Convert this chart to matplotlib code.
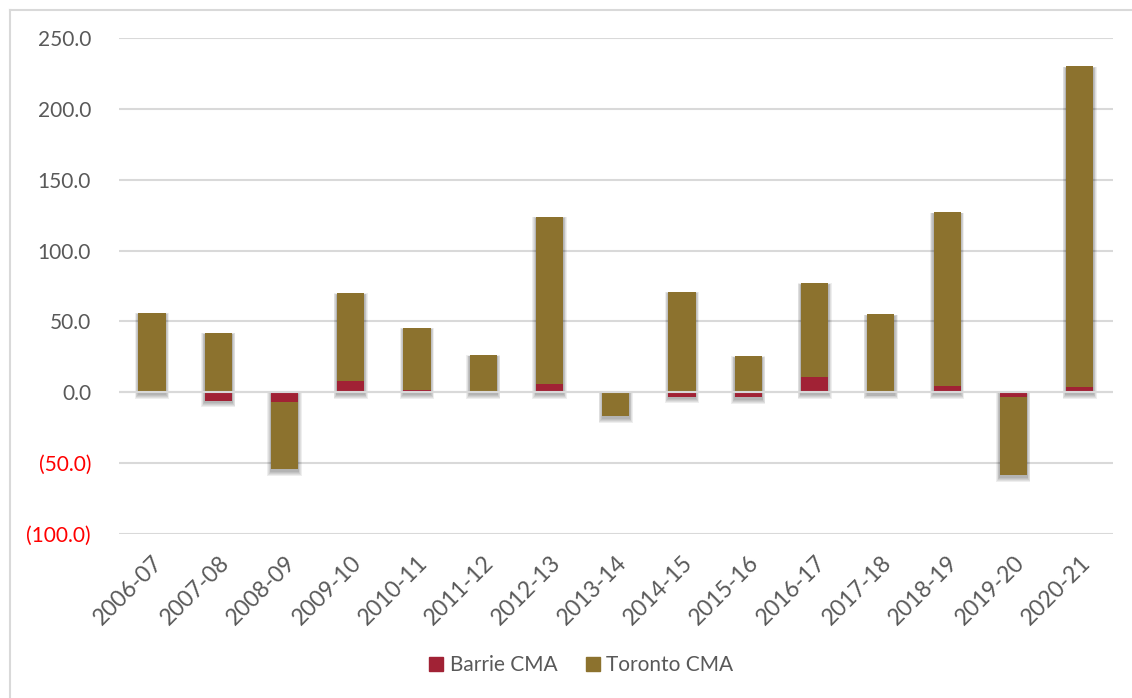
import numpy as np
import matplotlib.pyplot as plt
from matplotlib.lines import Line2D

plt.rcParams['font.family'] = ['Lato', 'DejaVu Sans']

# 数据（单位：千人）
years = ['2006-07', '2007-08', '2008-09', '2009-10', '2010-11', '2011-12', '2012-13',
         '2013-14', '2014-15', '2015-16', '2016-17', '2017-18', '2018-19', '2019-20', '2020-21']
barrie = [0.0, -6.0, -7.0, 8.0, 1.5, 0.3, 6.0, 1.0, -3.0, -3.5, 10.5, -0.4, 4.5, -3.0, 4.0]
toronto = [56.0, 42.0, -47.5, 62.0, 44.0, 26.0, 118.0, -17.0, 71.0, 25.5, 66.5, 55.0, 122.5, -55.6, 226.0]
yticks = [-100, -50, 0, 50, 100, 150, 200, 250]

c_barrie = '#A12235'
c_toronto = '#8C722E'
txt_grey = '#595959'

fig = plt.figure(figsize=(11.32, 6.98), dpi=100)
ax = fig.add_axes([0.105, 0.235, 0.878, 0.7106])

x = np.arange(len(years))
barrie = np.array(barrie)
toronto = np.array(toronto)
# 正负分开堆叠（Excel 风格）
bottom_t = np.where(np.sign(toronto) == np.sign(barrie), barrie, 0)
w = 0.41

# 柔和阴影：整根堆叠柱下方叠几层半透明矩形
top = np.maximum(np.maximum(barrie, 0) + np.maximum(toronto, 0), 0)
low = np.minimum(np.minimum(barrie, 0) + np.minimum(toronto, 0), 0)
px_x = 1 / 66.3
px_y = 1 / 1.416
for k in range(1, 6):
    ax.bar(x, top - low + 2 * k * px_y * 0.6, bottom=low - (2 + k) * px_y * 0.9,
           width=w + 2 * k * px_x * 0.7, color='black', alpha=0.065, linewidth=0, zorder=1)

ax.bar(x, barrie, width=w, color=c_barrie, zorder=2)
ax.bar(x, toronto, width=w, bottom=bottom_t, color=c_toronto, zorder=2)

ax.set_xlim(-0.5, len(years) - 0.5)
ax.set_ylim(-100, 250)
ax.set_yticks(yticks)
ax.set_yticklabels(['({:.1f})'.format(-v) if v < 0 else '{:.1f}'.format(v) for v in yticks])
for lab, v in zip(ax.get_yticklabels(), yticks):
    lab.set_color('#FF0000' if v < 0 else txt_grey)

ax.set_xticks(x)
ax.set_xticklabels(years, rotation=45, ha='right', rotation_mode='anchor', color=txt_grey, fontsize=16.5)
ax.tick_params(axis='both', length=0)
ax.tick_params(axis='y', pad=20, labelsize=15)
ax.tick_params(axis='x', pad=13)

ax.grid(axis='y', color='#D9D9D9', linewidth=1.5)
ax.set_axisbelow(True)
ax.axhline(0, color='#D9D9D9', linewidth=1.5, zorder=3)
for s in ax.spines.values():
    s.set_visible(False)

# 图例
handles = [Line2D([], [], marker='s', linestyle='', markersize=9.5, color=c_barrie),
           Line2D([], [], marker='s', linestyle='', markersize=9.5, color=c_toronto)]
leg = fig.legend(handles, ['Barrie CMA', 'Toronto CMA'], loc='center', bbox_to_anchor=(0.513, 0.047),
                 ncol=2, frameon=False, fontsize=15, handlelength=0.8, handletextpad=0.25,
                 columnspacing=1.3)
for t in leg.get_texts():
    t.set_color(txt_grey)

# 外框
fig.add_artist(Line2D([10 / 1132, 10 / 1132], [0, 1 - 10 / 698], transform=fig.transFigure, color='#D9D9D9', linewidth=1.5))
fig.add_artist(Line2D([10 / 1132, 1], [1 - 10 / 698, 1 - 10 / 698], transform=fig.transFigure, color='#D9D9D9', linewidth=1.5))

plt.savefig('out.png', dpi=100)
